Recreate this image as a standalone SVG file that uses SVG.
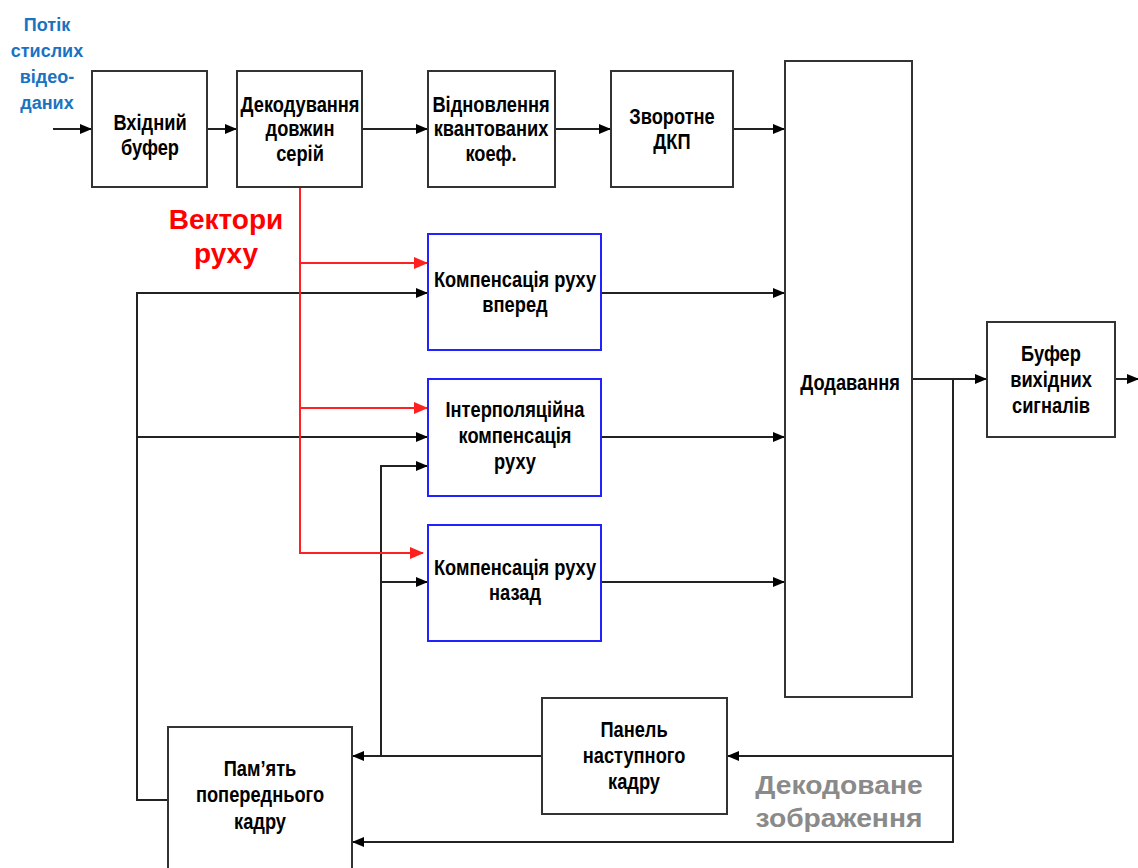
<svg xmlns="http://www.w3.org/2000/svg" width="1138" height="868" viewBox="0 0 1138 868">
<defs>
<style>
.box{fill:#fff;stroke:#333;stroke-width:2}
.bbox{fill:#fff;stroke:#2222ff;stroke-width:2}
.t{font-family:"Liberation Sans",Arial,sans-serif;font-weight:bold;font-size:22px;fill:#000;text-anchor:middle}
.w{fill:none;stroke:#222;stroke-width:2}
.r{fill:none;stroke:#ff2020;stroke-width:2}
.blue{font-family:"Liberation Sans",Arial,sans-serif;font-weight:bold;font-size:18px;fill:#1a73c0;text-anchor:middle}
.red{font-family:"Liberation Sans",Arial,sans-serif;font-weight:bold;font-size:28px;fill:#ff0000;text-anchor:middle}
.gray{font-family:"Liberation Sans",Arial,sans-serif;font-weight:bold;font-size:25px;fill:#8a8a8a;text-anchor:middle}
</style>
<marker id="a" markerWidth="12" markerHeight="10" refX="11" refY="5" orient="auto" markerUnits="userSpaceOnUse"><path d="M0,0 L12,5 L0,10 z" fill="#000"/></marker>
<marker id="ar" markerWidth="14" markerHeight="12" refX="13" refY="6" orient="auto" markerUnits="userSpaceOnUse"><path d="M0,0 L14,6 L0,12 z" fill="#ff2020"/></marker>
</defs>
<rect width="1138" height="868" fill="#fff"/>
<g id="connectors">
<path class="w" d="M53,129 H91" marker-end="url(#a)"/>
<path class="w" d="M207,129 H236" marker-end="url(#a)"/>
<path class="w" d="M362,129 H427" marker-end="url(#a)"/>
<path class="w" d="M555,129 H610" marker-end="url(#a)"/>
<path class="w" d="M733,129 H784" marker-end="url(#a)"/>
<path class="w" d="M601,293 H784" marker-end="url(#a)"/>
<path class="w" d="M601,437 H784" marker-end="url(#a)"/>
<path class="w" d="M601,582 H784" marker-end="url(#a)"/>
<path class="w" d="M912,379 H986" marker-end="url(#a)"/>
<path class="w" d="M1115,379 H1138" marker-end="url(#a)"/>
<path class="w" d="M953,379 V842 H353" marker-end="url(#a)"/>
<path class="w" d="M953,756 H728" marker-end="url(#a)"/>
<path class="w" d="M542,756 H353" marker-end="url(#a)"/>
<path class="w" d="M168,800 H137 V293 H427" marker-end="url(#a)"/>
<path class="w" d="M137,437 H427" marker-end="url(#a)"/>
<path class="w" d="M381,756 V466 H427" marker-end="url(#a)"/>
<path class="w" d="M381,582 H427" marker-end="url(#a)"/>
<path class="r" d="M300,187 V553 H423" marker-end="url(#ar)"/>
<path class="r" d="M300,263 H427" marker-end="url(#ar)"/>
<path class="r" d="M300,408 H427" marker-end="url(#ar)"/>
</g>
<g id="n-input-label">
<text class="blue" x="47" y="31">Потік</text>
<text class="blue" x="47" y="57">стислих</text>
<text class="blue" x="47" y="83">відео-</text>
<text class="blue" x="47" y="109">даних</text>
</g>
<g id="n-vhidnyi"><rect class="box" x="92" y="71" width="115" height="116"/>
<g transform="translate(150,0) scale(0.83,1)"><text class="t" x="0" y="130">Вхідний</text><text class="t" x="0" y="155">буфер</text></g></g>
<g id="n-dekod"><rect class="box" x="237" y="71" width="125" height="116"/>
<g transform="translate(300,0) scale(0.83,1)"><text class="t" x="0" y="112">Декодування</text><text class="t" x="0" y="136">довжин</text><text class="t" x="0" y="161">серій</text></g></g>
<g id="n-vidnovl"><rect class="box" x="428" y="71" width="127" height="116"/>
<g transform="translate(491,0) scale(0.83,1)"><text class="t" x="0" y="112">Відновлення</text><text class="t" x="0" y="136">квантованих</text><text class="t" x="0" y="161">коеф.</text></g></g>
<g id="n-dkp"><rect class="box" x="611" y="71" width="122" height="116"/>
<g transform="translate(672,0) scale(0.83,1)"><text class="t" x="0" y="124">Зворотне</text><text class="t" x="0" y="149">ДКП</text></g></g>
<g id="n-dodav"><rect class="box" x="785" y="61" width="127" height="636"/>
<g transform="translate(850,0) scale(0.83,1)"><text class="t" x="0" y="390">Додавання</text></g></g>
<g id="n-bufout"><rect class="box" x="987" y="322" width="128" height="115"/>
<g transform="translate(1051,0) scale(0.83,1)"><text class="t" x="0" y="361">Буфер</text><text class="t" x="0" y="387">вихідних</text><text class="t" x="0" y="413">сигналів</text></g></g>
<g id="n-vectors"><text class="red" x="226" y="229">Вектори</text><text class="red" x="226" y="263">руху</text></g>
<g id="n-forward"><rect class="bbox" x="428" y="234" width="173" height="116"/>
<g transform="translate(515,0) scale(0.83,1)"><text class="t" x="0" y="287">Компенсація руху</text><text class="t" x="0" y="312">вперед</text></g></g>
<g id="n-interp"><rect class="bbox" x="428" y="379" width="173" height="117"/>
<g transform="translate(515,0) scale(0.83,1)"><text class="t" x="0" y="417">Інтерполяційна</text><text class="t" x="0" y="443">компенсація</text><text class="t" x="0" y="469">руху</text></g></g>
<g id="n-back"><rect class="bbox" x="428" y="525" width="173" height="116"/>
<g transform="translate(515,0) scale(0.83,1)"><text class="t" x="0" y="575">Компенсація руху</text><text class="t" x="0" y="600">назад</text></g></g>
<g id="n-panel"><rect class="box" x="542" y="698" width="185" height="116"/>
<g transform="translate(634,0) scale(0.83,1)"><text class="t" x="0" y="737">Панель</text><text class="t" x="0" y="763">наступного</text><text class="t" x="0" y="789">кадру</text></g></g>
<g id="n-memory"><rect class="box" x="168" y="727" width="184" height="150"/>
<g transform="translate(260,0) scale(0.83,1)"><text class="t" x="0" y="776">Пам’ять</text><text class="t" x="0" y="802">попереднього</text><text class="t" x="0" y="829">кадру</text></g></g>
<g id="n-decoded"><g transform="translate(839,0) scale(1.13,1)"><text class="gray" x="0" y="794">Декодоване</text><text class="gray" x="0" y="827">зображення</text></g></g>
</svg>
